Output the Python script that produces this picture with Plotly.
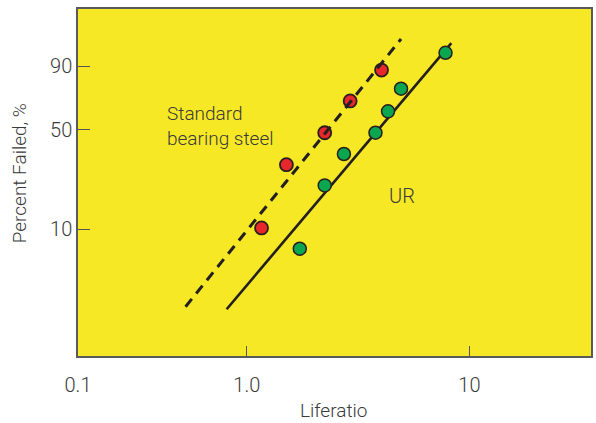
import numpy as np
import plotly.graph_objects as go

# Data (life ratio vs percent failed)
std_life = [1.165, 1.507, 2.239, 2.913, 4.03]
std_pct = [10.2, 30.0, 48.0, 69.7, 88.3]
ur_life = [1.730, 2.239, 2.731, 3.785, 4.31, 4.93, 7.81]
ur_pct = [7.0, 21.4, 35.4, 48.0, 62.5, 77.8, 94.9]
std_fit_life = [0.531, 4.93]
std_fit_pct = [2.39, 97.9]
ur_fit_life = [0.812, 8.29]
ur_fit_pct = [2.28, 97.2]
y_ticks = [10, 50, 90]
x_tickvals = [0.1746, 1, 10]
x_ticktext = ["0.1", "1.0", "10"]


def weib(p):
    return np.log(-np.log(1 - np.asarray(p, dtype=float) / 100.0))


FONT = "Roboto"
TXT = "#3a3a3a"
YELLOW = "#F7E826"
EDGE = "#2a1e1e"


def tfont(size):
    return dict(family=FONT, size=size, color=TXT, weight=300)


fig = go.Figure()
fig.add_trace(go.Scatter(
    x=std_life, y=weib(std_pct), mode="markers",
    marker=dict(size=13, color="#E8272B", line=dict(color=EDGE, width=1.8)),
    showlegend=False))
fig.add_trace(go.Scatter(
    x=std_fit_life, y=weib(std_fit_pct), mode="lines",
    line=dict(color="#231F20", width=3, dash="10px,7px"), showlegend=False))
fig.add_trace(go.Scatter(
    x=ur_fit_life, y=weib(ur_fit_pct), mode="lines",
    line=dict(color="#231F20", width=2.6), showlegend=False))
fig.add_trace(go.Scatter(
    x=ur_life, y=weib(ur_pct), mode="markers",
    marker=dict(size=13, color="#0AA650", line=dict(color=EDGE, width=1.5)),
    showlegend=False))

# text labels (paper coordinates)
fig.add_annotation(x=0.169, y=0.6614, xref="paper", yref="paper",
                   text="Standard<br>bearing steel", align="left",
                   showarrow=False, xanchor="left", yanchor="middle", font=tfont(19))
fig.add_annotation(x=0.631, y=0.461, xref="paper", yref="paper", text="UR",
                   showarrow=False, xanchor="center", yanchor="middle", font=tfont(20))
# axis titles
fig.add_annotation(x=0.498, y=-0.156, xref="paper", yref="paper", text="Liferatio",
                   showarrow=False, xanchor="center", yanchor="middle", font=tfont(19))
fig.add_annotation(x=-0.1146, y=0.527, xref="paper", yref="paper", text="Percent Failed, %",
                   textangle=-90, showarrow=False, xanchor="center", yanchor="middle",
                   font=tfont(19))

fig.update_xaxes(type="log", range=[-0.758, 1.546],
                 tickvals=x_tickvals, ticktext=x_ticktext,
                 ticks="inside", ticklen=10, tickcolor="#555555", tickwidth=1.2,
                 showgrid=False, zeroline=False, ticklabelstandoff=10,
                 showline=True, mirror=True, linecolor="#5a5a5a", linewidth=1.5,
                 tickfont=tfont(20))
fig.update_yaxes(range=[-4.656, 1.920],
                 tickvals=list(weib(y_ticks)), ticktext=[str(v) for v in y_ticks],
                 ticks="inside", ticklen=12, tickcolor="#555555", tickwidth=1.2,
                 showgrid=False, zeroline=False, ticklabelstandoff=0,
                 showline=True, mirror=True, linecolor="#5a5a5a", linewidth=1.5,
                 tickfont=tfont(20))

fig.update_layout(width=596, height=423,
                  margin=dict(l=78, r=3, t=9, b=67),
                  plot_bgcolor=YELLOW, paper_bgcolor="white")

fig.write_html("out.html")
